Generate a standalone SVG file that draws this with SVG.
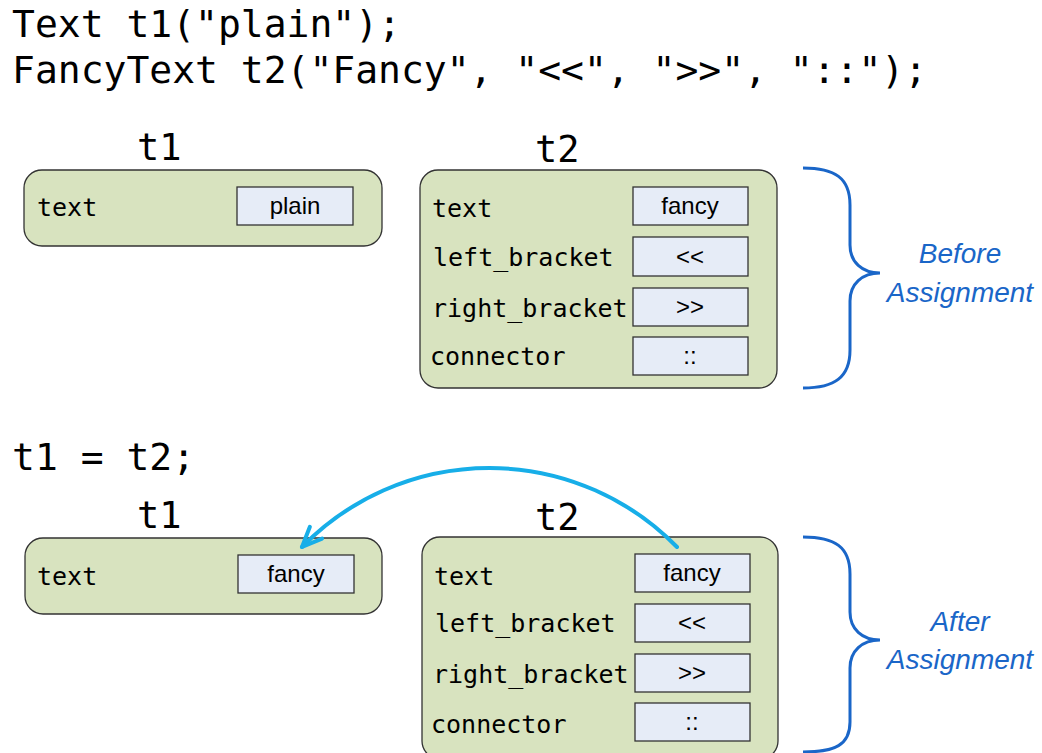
<svg xmlns="http://www.w3.org/2000/svg" width="1042" height="753" viewBox="0 0 1042 753">
<defs>
<style>
.code{font-family:"DejaVu Sans Mono","Liberation Mono",monospace;font-size:38px;fill:#000}
.name{font-family:"DejaVu Sans Mono","Liberation Mono",monospace;font-size:37px;fill:#000}
.field{font-family:"DejaVu Sans Mono","Liberation Mono",monospace;font-size:25px;fill:#000}
.val{font-family:"Liberation Sans",Arial,sans-serif;font-size:24px;fill:#000;text-anchor:middle}
.obj{fill:#d8e3bf;stroke:#333;stroke-width:1.3}
.cell{fill:#e6ecf7;stroke:#333;stroke-width:1.3}
.brace{fill:none;stroke:#1a66c8;stroke-width:3}
.note{font-family:"Liberation Sans",Arial,sans-serif;font-size:28px;font-style:italic;fill:#1a66c8;text-anchor:middle}
</style>
<marker id="ah" markerUnits="userSpaceOnUse" markerWidth="40" markerHeight="40" refX="0" refY="0" orient="auto" overflow="visible">
<path d="M-20,-8.5 L0,0 L-20,8.5" fill="none" stroke="#17aee8" stroke-width="4" stroke-linecap="round" stroke-linejoin="round"/>
</marker>
</defs>
<rect width="1042" height="753" fill="#fff"/>
<g id="code">
<text class="code" x="12" y="37">Text t1("plain");</text>
<text class="code" x="12" y="83">FancyText t2("Fancy", "&lt;&lt;", "&gt;&gt;", "::");</text>
<text class="code" x="12" y="470">t1 = t2;</text>
</g>
<g id="t1-before">
<text class="name" x="137" y="160">t1</text>
<rect class="obj" x="24" y="170" width="358" height="76" rx="18"/>
<text class="field" x="37" y="216">text</text>
<rect class="cell" x="237" y="187" width="116" height="38"/>
<text class="val" x="295" y="214">plain</text>
</g>
<g id="t2-before">
<text class="name" x="535" y="162">t2</text>
<rect class="obj" x="420" y="170" width="357" height="218" rx="18"/>
<text class="field" x="432" y="217">text</text>
<text class="field" x="433" y="266">left_bracket</text>
<text class="field" x="432" y="317">right_bracket</text>
<text class="field" x="430" y="365">connector</text>
<rect class="cell" x="633" y="187" width="115" height="38"/>
<rect class="cell" x="633" y="237" width="115" height="39"/>
<rect class="cell" x="633" y="288" width="115" height="38"/>
<rect class="cell" x="633" y="337" width="115" height="38"/>
<text class="val" x="690" y="214">fancy</text>
<text class="val" x="690" y="265">&lt;&lt;</text>
<text class="val" x="690" y="315">&gt;&gt;</text>
<text class="val" x="690" y="364">::</text>
</g>
<g id="brace-before">
<path class="brace" d="M803,168 C835,168 850,178 850,205 L850,245 C850,262 862,273 880,273 C862,273 850,284 850,301 L850,350 C850,377 835,388 803,388"/>
<text class="note" x="960" y="263">Before</text>
<text class="note" x="960" y="302">Assignment</text>
</g>
<g id="t1-after">
<text class="name" x="137" y="528">t1</text>
<rect class="obj" x="25" y="538" width="357" height="76" rx="18"/>
<text class="field" x="37" y="585">text</text>
<rect class="cell" x="238" y="555" width="116" height="38"/>
<text class="val" x="296" y="582">fancy</text>
</g>
<g id="t2-after">
<text class="name" x="535" y="530">t2</text>
<rect class="obj" x="422" y="537" width="356" height="222" rx="18"/>
<text class="field" x="434" y="585">text</text>
<text class="field" x="435" y="632">left_bracket</text>
<text class="field" x="433" y="683">right_bracket</text>
<text class="field" x="431" y="733">connector</text>
<rect class="cell" x="635" y="554" width="115" height="38"/>
<rect class="cell" x="635" y="604" width="115" height="38"/>
<rect class="cell" x="635" y="654" width="115" height="38"/>
<rect class="cell" x="635" y="703" width="115" height="38"/>
<text class="val" x="692" y="581">fancy</text>
<text class="val" x="692" y="631">&lt;&lt;</text>
<text class="val" x="692" y="681">&gt;&gt;</text>
<text class="val" x="692" y="730">::</text>
</g>
<g id="brace-after">
<path class="brace" d="M803,537 C835,537 850,547 850,574 L850,612 C850,629 862,640 880,640 C862,640 850,651 850,668 L850,722 C850,745 835,752 803,752"/>
<text class="note" x="960" y="631">After</text>
<text class="note" x="960" y="669">Assignment</text>
</g>
<g id="connectors">
<path d="M677,547 A262,262 0 0 0 302,547" fill="none" stroke="#17aee8" stroke-width="4" stroke-linecap="round" marker-end="url(#ah)"/>
</g>
</svg>
